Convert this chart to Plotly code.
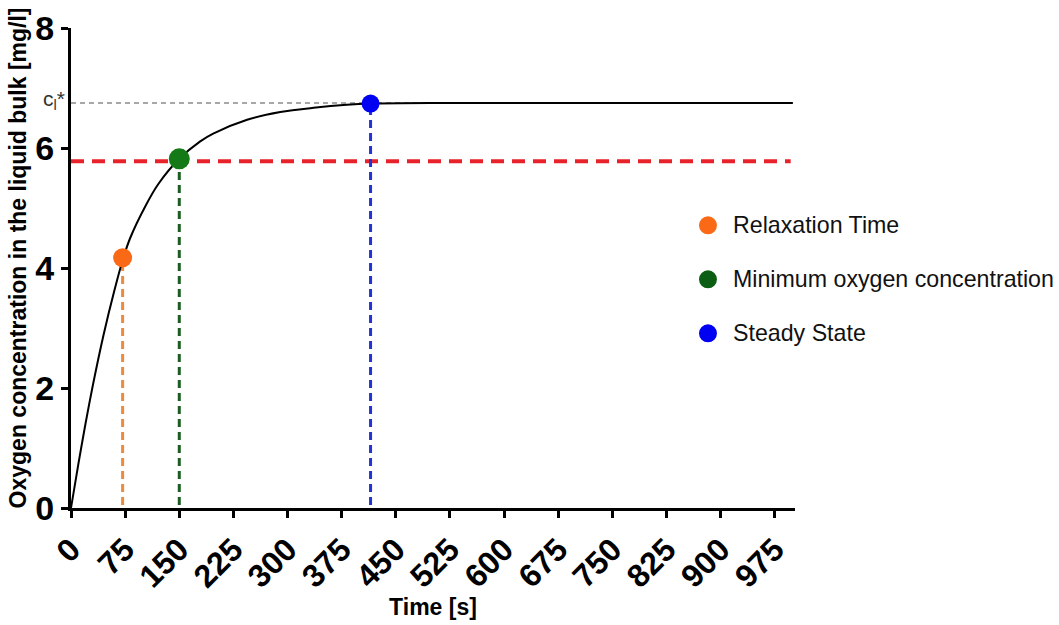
import plotly.graph_objects as go

# Oxygen concentration in the liquid bulk over time (read-off curve points)
time_s = [0, 10, 20, 30, 45, 60, 72, 82, 103, 121, 150, 179, 197, 244, 290,
          336, 382, 415, 500, 600, 700, 800, 900, 1000]
conc_mg_l = [0, 0.72, 1.40, 2.03, 2.88, 3.62, 4.15, 4.50, 5.03, 5.40, 5.82, 6.11,
             6.24, 6.47, 6.60, 6.67, 6.72, 6.74, 6.75, 6.75, 6.75, 6.75, 6.75, 6.75]

# Characteristic points
point_names = ["Relaxation Time", "Minimum oxygen concentration", "Steady State"]
point_time = [71.5, 150, 415]
point_conc = [4.17, 5.82, 6.74]
point_colors = ["#FA6A16", "#137A17", "#0000F2"]
key_colors = ["#FA6A16", "#0C5E14", "#0000F2"]
point_sizes = [19, 21, 18]
drop_colors = ["#EE8A3C", "#1C5E22", "#2233D6"]

c_sat = 6.75          # saturation concentration c_l*
c_min = 5.78          # minimum oxygen concentration level
x_end = 1000

x_ticks = list(range(0, 976, 75))
y_ticks = [0, 2, 4, 6, 8]

FONT = "Liberation Sans, Arial, sans-serif"

fig = go.Figure()

# saturation level (thin grey dotted)
fig.add_trace(go.Scatter(x=[0, x_end], y=[c_sat, c_sat], mode="lines",
                         line=dict(color="#8a8a8a", width=1.6, dash="5px,4px"),
                         showlegend=False, hoverinfo="skip"))

# minimum concentration level (thick red dashed)
fig.add_trace(go.Scatter(x=[0, 997], y=[c_min, c_min], mode="lines",
                         line=dict(color="#E8222A", width=4, dash="13px,8px"),
                         showlegend=False, hoverinfo="skip"))

# vertical drop lines from each characteristic point
for t, c, col in zip(point_time, point_conc, drop_colors):
    fig.add_trace(go.Scatter(x=[t, t], y=[0.05, c], mode="lines",
                             line=dict(color=col, width=3, dash="8px,5px"),
                             showlegend=False, hoverinfo="skip"))

# concentration curve
fig.add_trace(go.Scatter(x=time_s, y=conc_mg_l, mode="lines",
                         line=dict(color="black", width=2, shape="spline", smoothing=0.8),
                         showlegend=False))

# characteristic points
for name, t, c, col, sz in zip(point_names, point_time, point_conc,
                               point_colors, point_sizes):
    fig.add_trace(go.Scatter(x=[t], y=[c], mode="markers", name=name,
                             showlegend=False,
                             marker=dict(color=col, size=sz, line=dict(width=0))))

# key to the characteristic points, placed right of the plot area
key_x = 0.8798
key_text_x = 0.9116
key_y = [0.589, 0.4765, 0.364]
for name, col, ky in zip(point_names, key_colors, key_y):
    fig.add_shape(type="circle", xref="paper", yref="paper",
                  xsizemode="pixel", ysizemode="pixel",
                  xanchor=key_x, yanchor=ky, x0=-9, x1=9, y0=-9, y1=9,
                  fillcolor=col, line=dict(width=0))
    fig.add_annotation(x=key_text_x, y=ky, xref="paper", yref="paper",
                       text=name, showarrow=False, xanchor="left", yanchor="middle",
                       font=dict(family=FONT, size=23.2, color="#111111"))

fig.add_annotation(x=0, xref="paper", y=c_sat, yref="y",
                   text="c<sub>l</sub>*", showarrow=False, xanchor="right",
                   xshift=-4, yshift=3,
                   font=dict(family=FONT, size=21, color="#333333"))

# y-axis title
fig.add_annotation(x=-0.0732, y=0.52, xref="paper", yref="paper",
                   text="Oxygen concentration in the liquid bulk [mg/l]",
                   textangle=-90, showarrow=False,
                   xanchor="center", yanchor="middle",
                   font=dict(family=FONT, size=23, weight="bold", color="black"))

fig.update_layout(
    width=1059, height=625,
    margin=dict(l=71, r=264, t=28, b=117),
    paper_bgcolor="white", plot_bgcolor="white",
    font=dict(family=FONT, color="black"),
    showlegend=False,
    xaxis=dict(range=[0, 1003], tickmode="array", tickvals=x_ticks,
               ticktext=[str(v) for v in x_ticks], tickangle=-45,
               ticks="outside", ticklen=7, tickwidth=3, tickcolor="black",
               showline=True, linewidth=3, linecolor="black",
               showgrid=False, zeroline=False, automargin=False,
               tickfont=dict(family=FONT, size=32, weight="bold"),
               title=dict(text="Time [s]", standoff=6,
                          font=dict(family=FONT, size=23, weight="bold"))),
    yaxis=dict(range=[0, 8], tickmode="array", tickvals=y_ticks,
               ticks="outside", ticklen=7, tickwidth=3, tickcolor="black",
               showline=True, linewidth=3, linecolor="black",
               showgrid=False, zeroline=False, automargin=False,
               tickfont=dict(family=FONT, size=34, weight="bold")),
)

fig.write_html("out.html")
